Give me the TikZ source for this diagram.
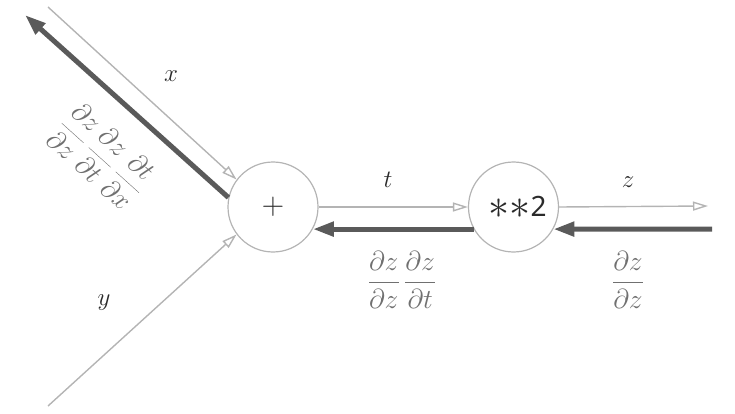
\RequirePackage{fix-cm}
\documentclass[tikz,border=0pt]{standalone}
\usepackage{graphicx}
\usepackage{fontspec}
\newfontfamily\opfont{Noto Sans}
\usetikzlibrary{arrows.meta}
\definecolor{lightline}{HTML}{B4B4B4}
\definecolor{darkline}{HTML}{5A5A5A}
\definecolor{fractext}{HTML}{707070}
\definecolor{labtext}{HTML}{2A2A2A}
\newcommand{\bigast}{\raisebox{-2pt}{\scalebox{1.5}{$\ast$}}}
\tikzset{
  opnode/.style={circle,draw=lightline,line width=1.2pt,minimum size=90pt,inner sep=0pt},
  fwd/.style={draw=lightline,line width=1.4pt,-{Triangle[open,length=15pt,width=9pt]}},
  bwd/.style={draw=darkline,line width=5pt,-{Triangle[length=21pt,width=14pt]}},
  lab/.style={text=labtext,font=\fontsize{25}{30}\selectfont},
  fraclab/.style={text=fractext,font=\fontsize{27.5}{32}\selectfont}
}
\begin{document}
\begin{tikzpicture}[x=1pt,y=-1pt]
\useasboundingbox (0,0) rectangle (735,414);
\node[opnode,font=\fontsize{31}{36}\selectfont,text=labtext] (plus) at (273,207) {$+$};
\node[opnode,font=\opfont\fontsize{28}{32}\selectfont,text=labtext] (sq) at (513.5,207) {\hspace{8pt}\bigast\bigast2};
\coordinate (xin) at (48,7);
\coordinate (xout) at (25,15);
\coordinate (yin) at (48,406);
\coordinate (zend) at (708,206);
\coordinate (zin) at (712,229);
\draw[fwd] (xin) -- (plus.143);
\draw[bwd] (plus.168) -- (xout);
\draw[fwd] (yin) -- (plus.217);
\draw[fwd] (plus.east) -- (sq.west);
\draw[bwd] (sq.209) -- (plus.-29);
\draw[fwd] (sq.east) -- (zend);
\draw[bwd] (zin) -- (sq.-29);
\node[lab] (xl) at (171,76) {$x$};
\node[lab] (yl) at (104,303) {$y$};
\node[lab] (tl) at (388,180) {$t$};
\node[lab] (zl) at (628,182) {$z$};
\node[fraclab,rotate=-42] (fx) at (102,156) {$\displaystyle\frac{\partial z}{\partial z}\,\frac{\partial z}{\partial t}\,\frac{\partial t}{\partial x}$};
\node[fraclab] (ft) at (402,280) {$\displaystyle\frac{\partial z}{\partial z}\,\frac{\partial z}{\partial t}$};
\node[fraclab] (fz) at (628,280) {$\displaystyle\frac{\partial z}{\partial z}$};
\end{tikzpicture}
\end{document}
